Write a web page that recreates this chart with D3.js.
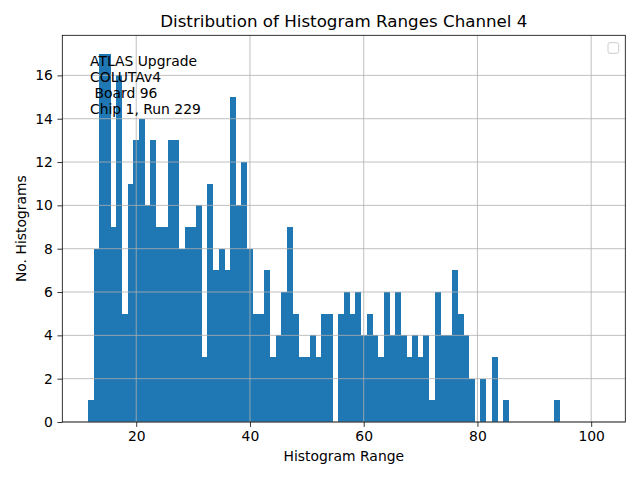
<!DOCTYPE html>
<html>
<head>
<meta charset="utf-8">
<script src="https://cdn.jsdelivr.net/npm/d3@7"></script>
<style>
  body { margin: 0; background: #fff; }
  text { font-family: "DejaVu Sans", sans-serif; }
</style>
</head>
<body>
<svg id="chart" width="640" height="480"></svg>
<script>
// ---- data ----
const binCenters = [12,13,14,15,16,17,18,19,20,21,22,23,24,25,26,27,28,29,30,31,
  32,33,34,35,36,37,38,39,40,41,42,43,44,45,46,47,48,49,50,51,52,53,54,55,56,57,58,59,60,61,
  62,63,64,65,66,67,68,69,70,71,72,73,74,75,76,77,78,79,80,81,82,83,84,85,86,87,88,89,90,91,
  92,93,94,95,96,97,98,99,100,101];
const counts = [1,8,17,17,9,16,5,11,13,14,10,13,9,9,13,13,8,9,9,10,
  3,11,7,8,7,15,10,12,8,5,5,7,3,4,6,9,5,3,3,4,3,5,5,0,5,6,5,6,4,5,
  4,3,6,4,6,4,3,4,3,4,1,6,4,4,7,5,4,2,0,2,0,3,0,1,0,0,0,0,0,0,
  0,0,1,0,0,0,0,0,0,0];
const binWidth = [1];
const xTicks = [20, 40, 60, 80, 100];
const yTicks = [0, 2, 4, 6, 8, 10, 12, 14, 16];
const annotationLines = ["ATLAS Upgrade", "COLUTAv4", " Board 96", "Chip 1, Run 229"];
const titleText = "Distribution of Histogram Ranges Channel 4";
const xLabel = "Histogram Range";
const yLabel = "No. Histograms";

// ---- layout ----
const svg = d3.select("#chart");
const L = 62.3, R = 625.3, T = 35.3, B = 422;
const x = d3.scaleLinear().domain([7, 106]).range([L, R]);
const y = d3.scaleLinear().domain([0, 17.85]).range([B, T]);
const bw = binWidth[0];

// bars
svg.append("g").selectAll("rect")
  .data(binCenters.map((c, i) => ({c, v: counts[i]})).filter(d => d.v > 0))
  .join("rect")
  .attr("x", d => x(d.c - bw / 2))
  .attr("width", d => x(d.c + bw / 2) - x(d.c - bw / 2) + 0.3)
  .attr("y", d => y(d.v))
  .attr("height", d => y(0) - y(d.v))
  .attr("fill", "#1f77b4")
  .attr("shape-rendering", "crispEdges");

// grid (drawn above bars)
const grid = svg.append("g").attr("stroke", "#b0b0b0").attr("stroke-width", 0.8);
grid.selectAll("line.gx").data(xTicks).join("line")
  .attr("x1", d => x(d)).attr("x2", d => x(d)).attr("y1", T).attr("y2", B);
grid.selectAll("line.gy").data(yTicks).join("line")
  .attr("y1", d => y(d)).attr("y2", d => y(d)).attr("x1", L).attr("x2", R);

// axes
const xAxis = d3.axisBottom(x).tickValues(xTicks).tickSize(4.9).tickPadding(4.5).tickFormat(d3.format("d"));
const yAxis = d3.axisLeft(y).tickValues(yTicks).tickSize(4.9).tickPadding(4.5).tickFormat(d3.format("d"));
const gx = svg.append("g").attr("transform", `translate(0,${B})`).call(xAxis);
const gy = svg.append("g").attr("transform", `translate(${L},0)`).call(yAxis);
[gx, gy].forEach(g => {
  g.select(".domain").remove();
  g.selectAll(".tick line").attr("stroke", "#000").attr("stroke-width", 0.8);
  g.selectAll(".tick text").attr("fill", "#000").style("font-size", "13.9px")
    .style("font-family", "DejaVu Sans, sans-serif");
});

// spines
svg.append("rect").attr("x", L).attr("y", T).attr("width", R - L).attr("height", B - T)
  .attr("fill", "none").attr("stroke", "#000").attr("stroke-width", 0.8);

// annotation text
const ann = svg.append("text").attr("x", 90).attr("y", 66)
  .style("font-size", "13.9px").attr("fill", "#000").attr("xml:space", "preserve")
  .style("white-space", "pre");
annotationLines.forEach((t, i) => {
  ann.append("tspan").attr("x", 90).attr("y", 66 + i * 16).text(t);
});

// empty legend
svg.append("rect").attr("x", 608).attr("y", 42.7).attr("width", 10.7).attr("height", 10.6)
  .attr("rx", 2).attr("fill", "#fff").attr("fill-opacity", 0.8)
  .attr("stroke", "#cccccc").attr("stroke-width", 1);

// title and labels
svg.append("text").attr("x", (L + R) / 2).attr("y", 27).attr("text-anchor", "middle")
  .style("font-size", "16.7px").attr("fill", "#000").text(titleText);
svg.append("text").attr("x", (L + R) / 2).attr("y", 461).attr("text-anchor", "middle")
  .style("font-size", "13.9px").attr("fill", "#000").text(xLabel);
svg.append("text").attr("transform", `translate(25.5,${(T + B) / 2}) rotate(-90)`)
  .attr("text-anchor", "middle").style("font-size", "13.9px").attr("fill", "#000").text(yLabel);
</script>
</body>
</html>
